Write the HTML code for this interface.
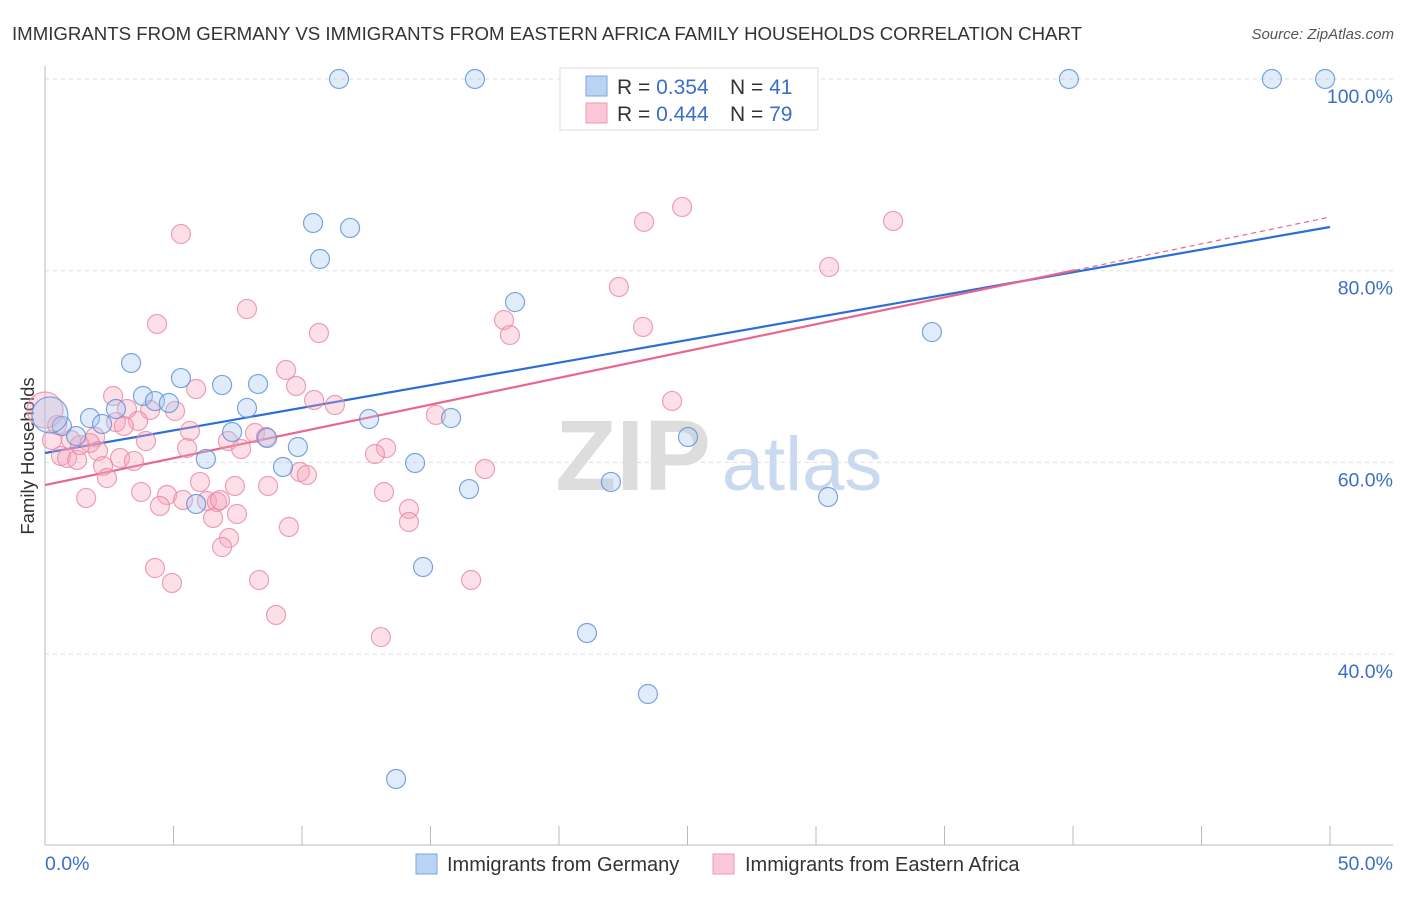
<!DOCTYPE html>
<html><head><meta charset="utf-8"><style>
body{margin:0;background:#fff;font-family:"Liberation Sans",sans-serif;}
svg text{font-family:"Liberation Sans",sans-serif;}
</style></head><body>
<svg id="chart" width="1406" height="892" xmlns="http://www.w3.org/2000/svg">
<text x="12" y="40" font-size="18.5" fill="#333" textLength="1070" lengthAdjust="spacingAndGlyphs">IMMIGRANTS FROM GERMANY VS IMMIGRANTS FROM EASTERN AFRICA FAMILY HOUSEHOLDS CORRELATION CHART</text>
<text x="1394" y="39" font-size="15" fill="#555" font-style="italic" text-anchor="end">Source: ZipAtlas.com</text>
<text x="34" y="456" font-size="18.5" fill="#333" text-anchor="middle" transform="rotate(-90 34 456)">Family Households</text>
<g><text x="633" y="490" font-size="100" fill="#ddd" font-family="Liberation Serif" text-anchor="middle" font-weight="bold">ZIP</text><text x="802" y="490" font-size="76" fill="#c9daf0" text-anchor="middle">atlas</text></g>
<g id="grid"></g><g id="axes"></g><g id="trend"></g><g id="pts"></g>
<g>
<rect x="560" y="68" width="258" height="62" fill="#fff" stroke="#ddd"/>
<rect x="586" y="76" width="21" height="20" fill="#b9d3f5" stroke="#7aa7e0"/>
<rect x="586" y="103" width="21" height="20" fill="#f9c7d5" stroke="#ef9ab3"/>
<text x="617" y="94" font-size="21" fill="#333">R = <tspan fill="#3a6fc9">0.354</tspan></text>
<text x="730" y="94" font-size="21" fill="#333">N = <tspan fill="#3a6fc9"> 41</tspan></text>
<text x="617" y="121" font-size="21" fill="#333">R = <tspan fill="#3a6fc9">0.444</tspan></text>
<text x="730" y="121" font-size="21" fill="#333">N = <tspan fill="#3a6fc9">79</tspan></text>
</g>
<g>
<rect x="416" y="854" width="21" height="20" fill="#b9d3f5" stroke="#7aa7e0"/>
<text x="447" y="871" font-size="20" fill="#333">Immigrants from Germany</text>
<rect x="713" y="854" width="21" height="20" fill="#f9c7d5" stroke="#ef9ab3"/>
<text x="745" y="871" font-size="20" fill="#333">Immigrants from Eastern Africa</text>
</g>
</svg>
<script>
const blueX=[11.44,16.73,39.84,47.74,49.81,10.43,11.87,10.70,18.29,34.51,3.35,5.29,6.89,8.29,3.81,4.28,4.82,2.76,7.86,1.75,2.22,0.66,1.21,12.61,15.80,7.28,8.64,9.84,6.26,9.26,14.40,16.50,22.02,25.02,30.47,5.88,14.71,21.09,23.46,13.66,0.19];
const blueY=[100,100,100,100,100,84.98,84.46,81.22,76.73,73.60,70.37,68.80,68.08,68.18,66.93,66.40,66.20,65.57,65.68,64.63,64.01,63.80,62.75,64.53,64.63,63.17,62.55,61.61,60.36,59.52,59.94,57.22,57.96,62.65,56.39,55.66,49.09,42.20,35.84,26.97,64.95];
const pinkX=[24.79,23.31,33.00,5.29,30.51,22.33,7.86,4.36,10.66,23.27,17.86,18.09,9.38,5.88,9.77,2.65,10.47,24.40,11.28,3.19,5.06,4.09,15.21,2.76,3.62,3.07,5.64,1.95,1.01,8.17,7.12,8.60,3.93,13.27,5.53,7.63,2.06,12.84,0.62,0.86,2.92,1.25,3.46,2.26,17.12,9.92,10.19,6.03,2.41,7.39,8.68,13.19,3.74,4.75,1.60,5.37,6.30,6.69,4.47,14.16,7.47,6.54,14.16,9.49,7.16,6.89,4.28,8.33,4.94,16.58,8.99,13.07,0.27,0.47,1.36,1.75,6.81,0];
const pinkY=[86.65,85.09,85.19,83.83,80.39,78.30,76.01,74.44,73.50,74.13,74.86,73.29,69.64,67.66,67.97,66.93,66.51,66.41,65.99,65.57,65.36,65.47,64.95,64.21,64.32,63.80,63.28,62.65,62.34,63.07,62.23,62.65,62.23,61.50,61.50,61.40,61.19,60.88,60.67,60.46,60.46,60.25,60.15,59.62,59.31,59.00,58.69,57.96,58.37,57.54,57.54,56.91,56.91,56.60,56.29,56.08,55.97,55.87,55.45,55.14,54.62,54.20,53.78,53.26,52.11,51.17,48.98,47.73,47.42,47.73,44.08,41.78,62.34,63.90,61.81,62.02,56.08,65.47];
const yTicks=[100,80,60,40];
const yTickLabels=["100.0%","80.0%","60.0%","40.0%"];
const xTicks=[0,5,10,15,20,25,30,35,40,45,50];
const blueTrend=[60.98,84.56];
const pinkTrend=[57.64,85.6];
const pinkSolidEnd=40.08;
const NS="http://www.w3.org/2000/svg";
const sx=v=>45+v*25.7, sy=v=>79+(100-v)*9.585;
function mk(tag,attrs,parent){const e=document.createElementNS(NS,tag);for(const k in attrs)e.setAttribute(k,attrs[k]);document.getElementById(parent).appendChild(e);return e;}
yTicks.forEach((t,i)=>{
 const g=mk('line',{x1:45,x2:1393,y1:sy(t),y2:sy(t),stroke:'#ddd','stroke-dasharray':'4 4'},'grid');
 
 
 const l=mk('text',{x:1393,y:sy(t)+24,'font-size':19.5,fill:'#3a6fc9','text-anchor':'end'},'grid');
 l.textContent=yTickLabels[i];
 
 
});
const ax=mk('line',{x1:45,x2:45,y1:66,y2:845,stroke:'#bbb'},'axes');


const bx=mk('line',{x1:45,x2:1393,y1:845,y2:845,stroke:'#bbb'},'axes');


xTicks.forEach(t=>{const l=mk('line',{x1:sx(t),x2:sx(t),y1:826,y2:845,stroke:'#bbb'},'axes');
 
 });
const x0=mk('text',{x:45,y:870,'font-size':19.5,fill:'#3a6fc9'},'axes');x0.textContent='0.0%';


const x1=mk('text',{x:1393,y:870,'font-size':19.5,fill:'#3a6fc9','text-anchor':'end'},'axes');x1.textContent='50.0%';


function drawPts(X,Y,fill,stroke,name){X.forEach((x,i)=>{const big=(x<0.3&&i===X.length-1);
 const c=mk('circle',{cx:sx(x),cy:sy(Y[i]),r:big?18:9.5,fill:fill,'fill-opacity':0.35,stroke:stroke,'stroke-width':1.2,'stroke-opacity':0.8},'pts');
 
 });}
drawPts(pinkX,pinkY,'#f5a3bb','#e98aa6','point-eastern-africa');
drawPts(blueX,blueY,'#a9c8f0','#5b8fd6','point-germany');
const bl=mk('line',{x1:sx(0),y1:sy(blueTrend[0]),x2:sx(50),y2:sy(blueTrend[1]),stroke:'#2b6fd6','stroke-width':2.2},'trend');


const pv=x=>pinkTrend[0]+(pinkTrend[1]-pinkTrend[0])*x/50;
const pl=mk('line',{x1:sx(0),y1:sy(pv(0)),x2:sx(pinkSolidEnd),y2:sy(pv(pinkSolidEnd)),stroke:'#e8668f','stroke-width':2.2},'trend');


const pd=mk('line',{x1:sx(pinkSolidEnd),y1:sy(pv(pinkSolidEnd)),x2:sx(50),y2:sy(pv(50)),stroke:'#e8668f','stroke-width':1.2,'stroke-dasharray':'5 4'},'trend');


</script>
</body></html>
